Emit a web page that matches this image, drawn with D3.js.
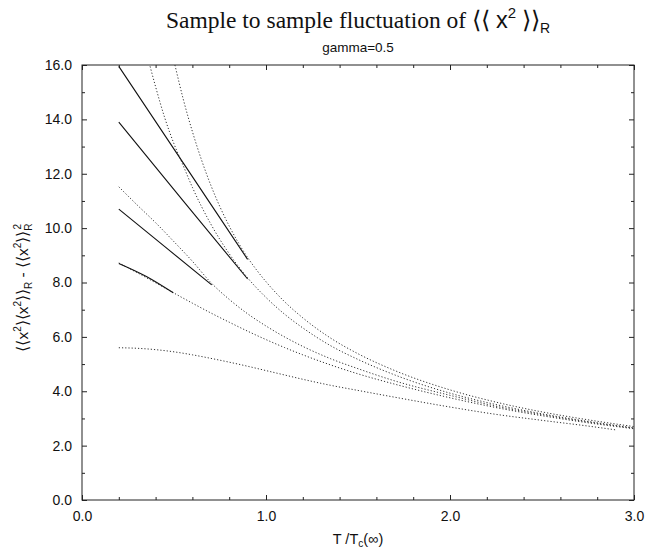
<!DOCTYPE html>
<html><head><meta charset="utf-8">
<script src="https://cdn.jsdelivr.net/npm/d3@7"></script>
<style>body{margin:0;background:#fff} svg{display:block}</style>
</head><body><svg id="c" width="646" height="548"></svg>
<script>
// ---- data ----
const xMajor = [0, 1, 2, 3];
const xMajorLabels = ["0.0", "1.0", "2.0", "3.0"];
const yMajor = [0, 2, 4, 6, 8, 10, 12, 14, 16];
const yMajorLabels = ["0.0", "2.0", "4.0", "6.0", "8.0", "10.0", "12.0", "14.0", "16.0"];
const xMinor = [0.2,0.4,0.6,0.8,1.2,1.4,1.6,1.8,2.2,2.4,2.6,2.8];
const yMinor = [1,3,5,7,9,11,13,15];

// dotted curves
const dot1T = [0.505,0.55,0.6,0.65,0.7,0.75,0.8,0.85,0.9,0.95,1.0,1.1,1.2,1.35,1.5,1.7,2.0,2.25,2.5,2.75,3.0];
const dot1V = [16.0,14.75,13.55,12.50,11.58,10.78,10.08,9.46,8.92,8.45,8.03,7.30,6.70,5.96,5.38,4.76,4.05,3.60,3.24,2.95,2.70];
const dot2T = [0.37,0.4,0.45,0.5,0.55,0.6,0.7,0.8,0.9,1.0,1.1,1.2,1.35,1.5,1.7,2.0,2.25,2.5,2.75,3.0];
const dot2V = [15.95,15.2,14.05,13.1,12.3,11.5,10.15,9.06,8.17,7.45,6.84,6.33,5.68,5.17,4.60,3.93,3.51,3.17,2.89,2.65];
const dot3T = [0.2,0.3,0.4,0.5,0.6,0.7,0.8,0.9,1.0,1.2,1.35,1.5,1.7,2.0,2.25,2.5,2.75,3.0];
const dot3V = [11.52,10.85,10.2,9.5,8.78,8.0,7.38,6.85,6.40,5.65,5.20,4.83,4.38,3.85,3.45,3.14,2.87,2.64];
const dot4T = [0.2,0.3,0.4,0.5,0.6,0.7,0.8,0.9,1.0,1.1,1.2,1.35,1.5,1.7,2.0,2.25,2.5,2.75,3.0];
const dot4V = [8.72,8.36,7.99,7.61,7.24,6.88,6.54,6.21,5.90,5.61,5.34,4.97,4.64,4.26,3.76,3.40,3.10,2.84,2.62];
const dot5T = [0.2,0.3,0.4,0.5,0.6,0.7,0.8,0.9,1.0,1.1,1.2,1.35,1.5,1.7,2.0,2.25,2.5,2.75,2.9];
const dot5V = [5.60,5.58,5.53,5.45,5.34,5.21,5.07,4.92,4.76,4.60,4.44,4.22,4.03,3.78,3.42,3.15,2.93,2.72,2.58];

// solid segments
const sol1T = [0.2, 0.55, 0.9];
const sol1V = [15.95, 12.40, 8.85];
const sol2T = [0.2, 0.55, 0.9];
const sol2V = [13.9, 11.0, 8.13];
const sol3T = [0.2, 0.45, 0.705];
const sol3V = [10.70, 9.32, 7.91];
const sol4T = [0.2, 0.35, 0.496];
const sol4V = [8.70, 8.22, 7.62];

const dotted = [[dot1T,dot1V],[dot2T,dot2V],[dot3T,dot3V],[dot4T,dot4V],[dot5T,dot5V]];
const solid = [[sol1T,sol1V],[sol2T,sol2V],[sol3T,sol3V],[sol4T,sol4V]];

// ---- drawing ----
const svg = d3.select("#c");
const L = 82, R = 634, T = 65, B = 500;
const x = d3.scaleLinear().domain([0, 3]).range([L, R]);
const y = d3.scaleLinear().domain([0, 16]).range([B, T]);
const SANS = "'Liberation Sans', Arial, Helvetica, sans-serif";
const SERIF = "'Liberation Serif', 'Times New Roman', serif";

function styleAxis(g) {
  g.select(".domain").remove();
  g.selectAll("line").attr("stroke", "#222").attr("stroke-width", 1);
  g.selectAll("text").attr("font-family", SANS).attr("font-size", 14).attr("fill", "#111");
}

// bottom
svg.append("g").attr("transform", `translate(0,${B})`)
  .call(d3.axisBottom(x).tickValues(xMajor).tickSize(-5).tickPadding(11).tickFormat((d,i)=>xMajorLabels[i]))
  .call(styleAxis);
svg.append("g").attr("transform", `translate(0,${B})`)
  .call(d3.axisBottom(x).tickValues(xMinor).tickSize(-3).tickFormat(""))
  .call(styleAxis);
// top
svg.append("g").attr("transform", `translate(0,${T})`)
  .call(d3.axisTop(x).tickValues(xMajor).tickSize(-5).tickFormat(""))
  .call(styleAxis);
svg.append("g").attr("transform", `translate(0,${T})`)
  .call(d3.axisTop(x).tickValues(xMinor).tickSize(-3).tickFormat(""))
  .call(styleAxis);
// left
svg.append("g").attr("transform", `translate(${L},0)`)
  .call(d3.axisLeft(y).tickValues(yMajor).tickSize(-5).tickPadding(10).tickFormat((d,i)=>yMajorLabels[i]))
  .call(styleAxis);
svg.append("g").attr("transform", `translate(${L},0)`)
  .call(d3.axisLeft(y).tickValues(yMinor).tickSize(-3).tickFormat(""))
  .call(styleAxis);
// right
svg.append("g").attr("transform", `translate(${R},0)`)
  .call(d3.axisRight(y).tickValues(yMajor).tickSize(-5).tickFormat(""))
  .call(styleAxis);
svg.append("g").attr("transform", `translate(${R},0)`)
  .call(d3.axisRight(y).tickValues(yMinor).tickSize(-3).tickFormat(""))
  .call(styleAxis);

// frame
svg.append("rect").attr("x", L).attr("y", T).attr("width", R - L).attr("height", B - T)
  .attr("fill", "none").attr("stroke", "#222").attr("stroke-width", 1);

const line = d3.line().x(d => x(d[0])).y(d => y(d[1])).curve(d3.curveMonotoneX);
const toPts = (ts, vs) => ts.map((t, i) => [t, vs[i]]);

svg.append("g").selectAll("path").data(dotted).join("path")
  .attr("d", d => line(toPts(d[0], d[1])))
  .attr("fill", "none").attr("stroke", "#333").attr("stroke-width", 1)
  .attr("stroke-dasharray", "1.2,2");

svg.append("g").selectAll("path").data(solid).join("path")
  .attr("d", d => line(toPts(d[0], d[1])))
  .attr("fill", "none").attr("stroke", "#111").attr("stroke-width", 1.1);

// title
const title = svg.append("text").attr("x", (L + R) / 2).attr("y", 28)
  .attr("text-anchor", "middle").attr("font-family", SERIF).attr("font-size", 23.5).attr("fill", "#111");
title.append("tspan").text("Sample to sample fluctuation of \u27E8\u27E8 ");
title.append("tspan").attr("font-family", SANS).text("x");
title.append("tspan").attr("font-family", SANS).attr("font-size", 15).attr("dy", -10).text("2");
title.append("tspan").attr("dy", 10).text(" \u27E9\u27E9");
title.append("tspan").attr("font-family", SANS).attr("font-size", 14).attr("dy", 5).text("R");

svg.append("text").attr("x", (L + R) / 2).attr("y", 52).attr("text-anchor", "middle")
  .attr("font-family", SANS).attr("font-size", 13.5).attr("fill", "#111").text("gamma=0.5");

// x label
const xl = svg.append("text").attr("x", (L + R) / 2).attr("y", 544).attr("text-anchor", "middle")
  .attr("font-family", SANS).attr("font-size", 14.5).attr("fill", "#111");
xl.append("tspan").text("T /T");
xl.append("tspan").attr("font-size", 10).attr("dy", 3).text("c");
xl.append("tspan").attr("dy", -3).text("(\u221E)");

// y label
const yl = svg.append("text").attr("transform", `translate(28,${(T + B) / 2 + 5}) rotate(-90)`)
  .attr("text-anchor", "middle").attr("font-family", SANS).attr("font-size", 15.5).attr("fill", "#111");
yl.append("tspan").text("\u27E8\u27E8x");
yl.append("tspan").attr("font-size", 10).attr("dy", -7).text("2");
yl.append("tspan").attr("dy", 7).text("\u27E9\u27E8x");
yl.append("tspan").attr("font-size", 10).attr("dy", -7).text("2");
yl.append("tspan").attr("dy", 7).text("\u27E9\u27E9");
yl.append("tspan").attr("font-size", 10).attr("dy", 4).text("R");
yl.append("tspan").attr("dy", -4).text(" - \u27E8\u27E8x");
yl.append("tspan").attr("font-size", 10).attr("dy", -7).text("2");
yl.append("tspan").attr("dy", 7).text("\u27E9\u27E9");
yl.append("tspan").attr("font-size", 10).attr("dy", 4).text("R");
yl.append("tspan").attr("font-size", 10).attr("dx", -6).attr("dy", -11).text("2");
</script></body></html>
